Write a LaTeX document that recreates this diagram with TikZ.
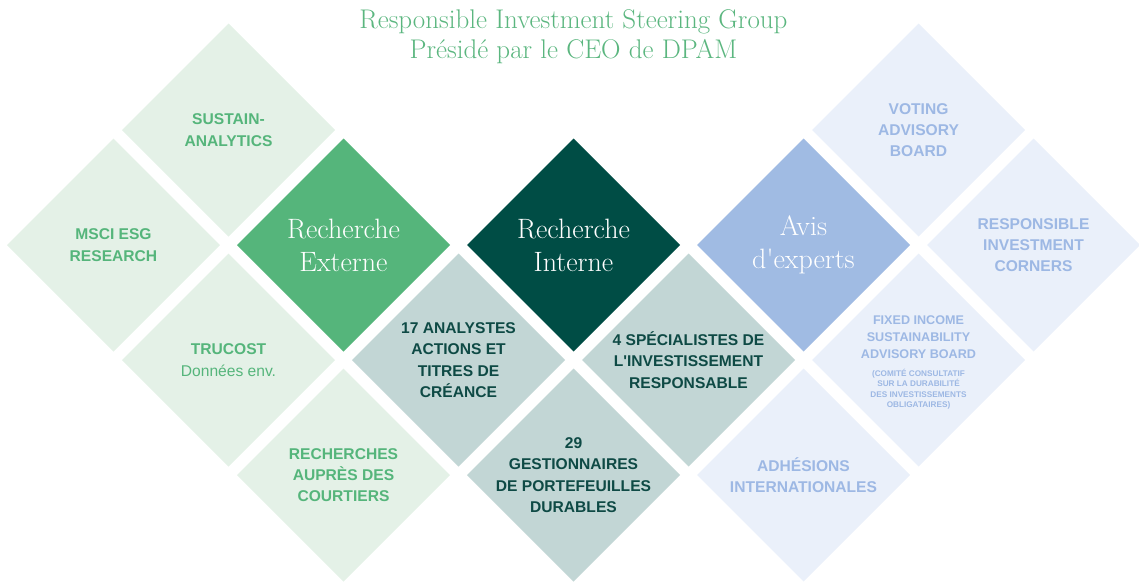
\documentclass[tikz,border=0pt]{standalone}
\usepackage{fontspec}
% plain fonts without TeX quote mapping, so apostrophes stay straight
\setmainfont{Latin Modern Roman}[Ligatures=TeXOff]
\setsansfont{Liberation Sans}[Ligatures=TeXOff]
\usetikzlibrary{shapes.geometric}

\definecolor{titlegreen}{HTML}{5BB67F}
\definecolor{palegreen}{HTML}{E4F1E7}
\definecolor{labelgreen}{HTML}{55B57B}
\definecolor{extgreen}{HTML}{55B57B}
\definecolor{intteal}{HTML}{004D45}
\definecolor{greyteal}{HTML}{C2D6D5}
\definecolor{darkteal}{HTML}{0E4A45}
\definecolor{avisblue}{HTML}{A0BBE3}
\definecolor{paleblue}{HTML}{EAF0FA}
\definecolor{labelblue}{HTML}{9DB8E4}

\begin{document}
\begin{tikzpicture}[x=1pt,y=-1pt,
  tile/.style={diamond, minimum width=213pt, minimum height=213pt,
               inner sep=0pt, outer sep=0pt, draw=none},
  greentile/.style={tile, fill=palegreen},
  greytile/.style={tile, fill=greyteal},
  bluetile/.style={tile, fill=paleblue},
  lbl/.style={align=center, inner sep=0pt,
              font=\sffamily\bfseries\fontsize{15.6}{21.3}\selectfont},
  greenlbl/.style={lbl, text=labelgreen},
  greylbl/.style={lbl, text=darkteal},
  bluelbl/.style={lbl, text=labelblue},
  headlbl/.style={align=center, inner sep=0pt, text=white,
                  font=\rmfamily\fontsize{28}{33}\selectfont},
  titlelbl/.style={inner sep=0pt, anchor=base, text=titlegreen,
                   font=\rmfamily\fontsize{27}{30}\selectfont}]

\useasboundingbox (0,0) rectangle (1139,581);

% heading
\node[titlelbl] (title1) at (573.5,28) {Responsible Investment Steering Group};
\node[titlelbl] (title2) at (573.5,58) {Présidé par le CEO de DPAM};

% external research group
\node[greentile] (sustain)   at (228.5,130) {};
\node[greentile] (msci)      at (113.5,245) {};
\node[greentile] (trucost)   at (228.5,360) {};
\node[greentile] (courtiers) at (343.5,475) {};
\node[tile, fill=extgreen] (externe) at (343.5,245) {};

% internal research group
\node[greytile] (analystes)    at (458.5,360) {};
\node[greytile] (gestion)      at (573.5,475) {};
\node[greytile] (specialistes) at (688.5,360) {};
\node[tile, fill=intteal] (interne) at (573.5,245) {};

% expert opinion group
\node[bluetile] (voting)    at (918.5,130) {};
\node[bluetile] (corners)   at (1033.5,245) {};
\node[bluetile] (fixedinc)  at (918.5,360) {};
\node[bluetile] (adhesions) at (803.5,475) {};
\node[tile, fill=avisblue] (avis) at (803.5,245) {};

% tile texts
\node[greenlbl] (sustain-t) at (sustain) {SUSTAIN-\\ANALYTICS};
\node[greenlbl] (msci-t) at (msci) {MSCI ESG\\RESEARCH};
\node[greenlbl] (trucost-t) at (trucost) {TRUCOST\\\mdseries Données env.};
\node[greenlbl] (courtiers-t) at (courtiers) {RECHERCHES\\AUPRÈS DES\\COURTIERS};
\node[headlbl] (externe-t) at (externe) {Recherche\\Externe};

\node[greylbl] (analystes-t) at (analystes) {17 ANALYSTES\\ACTIONS ET\\TITRES DE\\CRÉANCE};
\node[greylbl] (gestion-t) at (gestion) {29\\GESTIONNAIRES\\DE PORTEFEUILLES\\DURABLES};
\node[greylbl] (specialistes-t) at (specialistes) {4 SPÉCIALISTES DE\\L'INVESTISSEMENT\\RESPONSABLE};
\node[headlbl] (interne-t) at (interne) {Recherche\\Interne};

\node[bluelbl] (voting-t) at (voting) {VOTING\\ADVISORY\\BOARD};
\node[bluelbl] (corners-t) at (corners) {RESPONSIBLE\\INVESTMENT\\CORNERS};
\node[bluelbl, font=\sffamily\bfseries\fontsize{12.6}{16.7}\selectfont]
  (fixedinc-t) at (918.5,337) {FIXED INCOME\\SUSTAINABILITY\\ADVISORY BOARD};
\node[bluelbl, font=\sffamily\bfseries\fontsize{8.2}{10.5}\selectfont]
  (fixedinc-n) at (918.5,389) {(COMITÉ CONSULTATIF\\SUR LA DURABILITÉ\\DES INVESTISSEMENTS\\OBLIGATAIRES)};
\node[bluelbl] (adhesions-t) at (adhesions) {ADHÉSIONS\\INTERNATIONALES};
\node[headlbl] (avis-t) at (avis) {Avis\\d'experts};

\end{tikzpicture}
\end{document}
